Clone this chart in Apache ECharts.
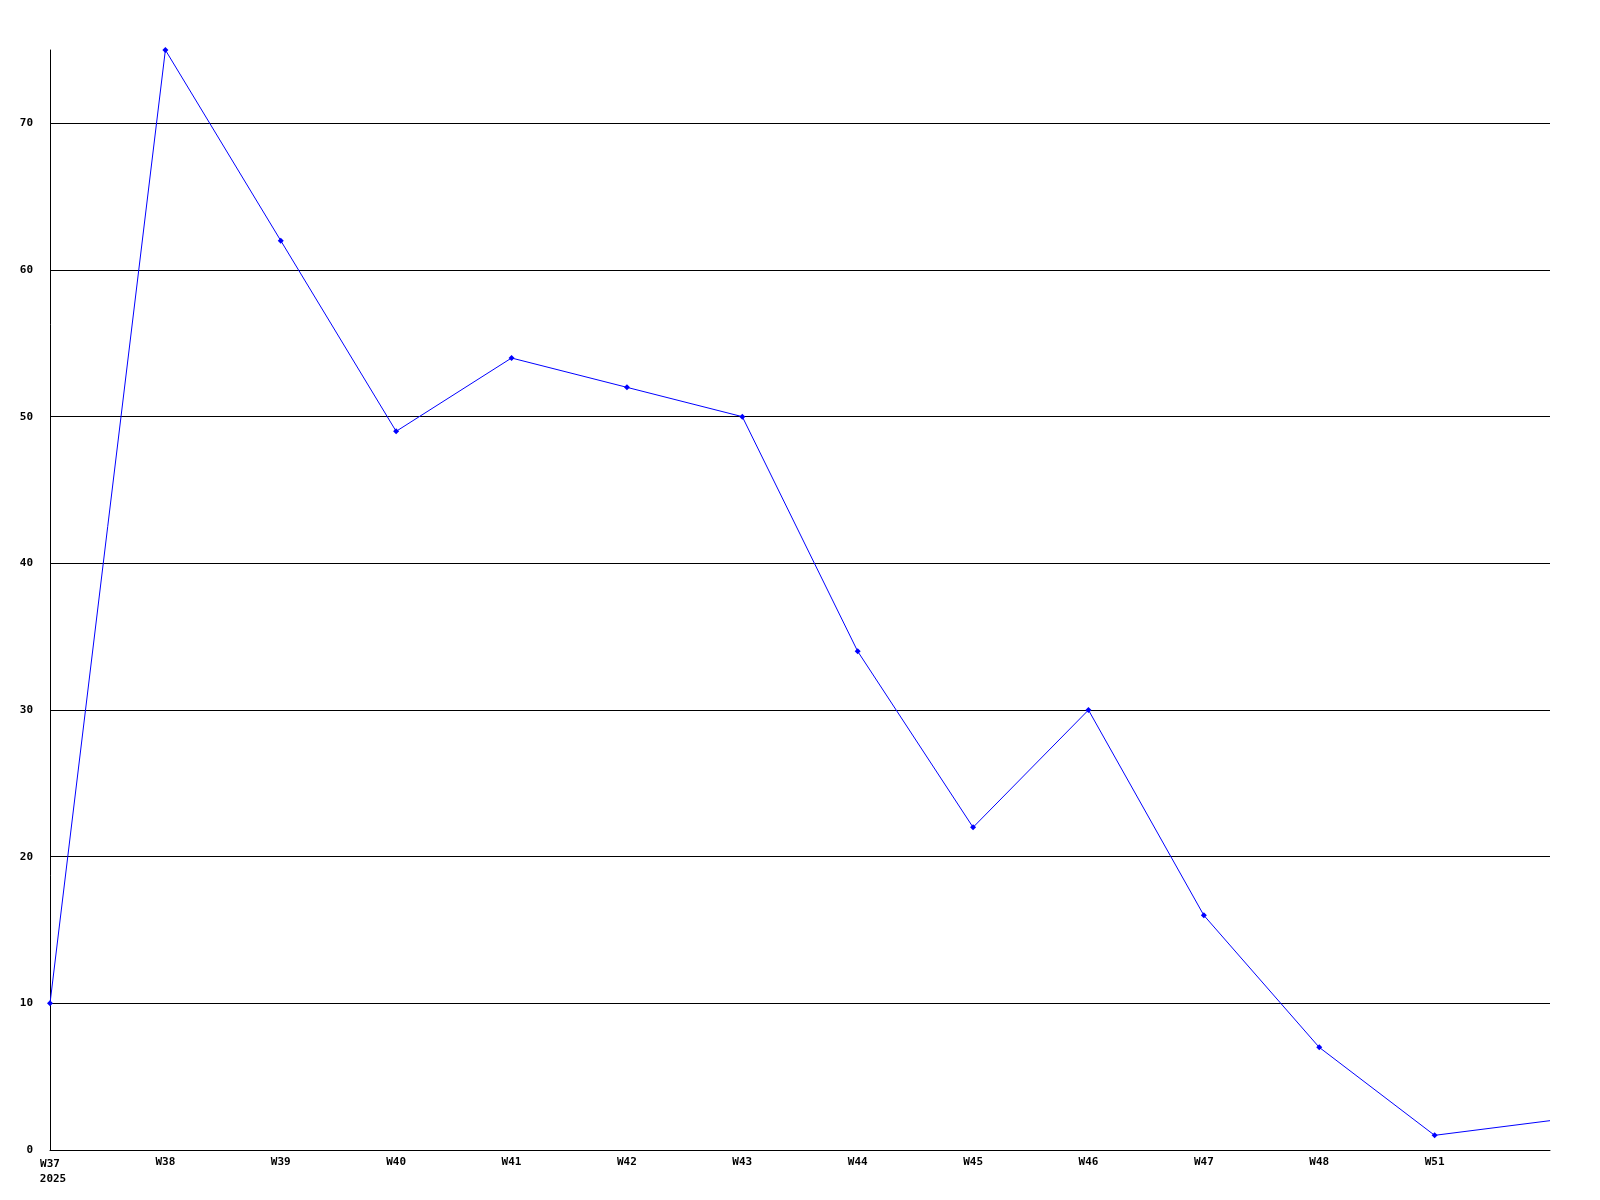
<!DOCTYPE html>
<html>
<head>
<meta charset="utf-8">
<script src="https://cdn.jsdelivr.net/npm/echarts@6/dist/echarts.min.js"></script>
<style>html,body{margin:0;padding:0;background:#fff}#c{width:1600px;height:1200px}</style>
</head>
<body>
<div id="c"></div>
<script>
const categories = ['W37','W38','W39','W40','W41','W42','W43','W44','W45','W46','W47','W48','W51',''];
const values = [10, 75, 62, 49, 54, 52, 50, 34, 22, 30, 16, 7, 1, 2];
const yearLabel = '2025';
const yTicks = [0, 10, 20, 30, 40, 50, 60, 70];

const FONT = 'DejaVu Sans Mono';
const chart = echarts.init(document.getElementById('c'), null, {renderer: 'canvas'});
chart.setOption({
  animation: false,
  backgroundColor: '#ffffff',
  grid: {left: 50, right: 50, top: 50, bottom: 50, containLabel: false},
  xAxis: {
    type: 'category',
    data: categories,
    boundaryGap: false,
    axisLine: {show: true, lineStyle: {color: '#000', width: 1}},
    axisTick: {show: false},
    splitLine: {show: false},
    axisLabel: {
      interval: 0,
      margin: 7,
      color: '#000',
      fontFamily: FONT,
      fontWeight: 'bold',
      fontSize: 11,
      formatter: function (v, i) {
        if (i === 0) return '{a|' + v + '}\n{b|' + yearLabel + '}';
        return v;
      },
      rich: {
        a: {fontFamily: FONT, fontWeight: 'bold', fontSize: 11, color: '#000', align: 'center', lineHeight: 15},
        b: {fontFamily: FONT, fontWeight: 'bold', fontSize: 11, color: '#000', padding: [0, 0, 0, 6], lineHeight: 15}
      }
    }
  },
  yAxis: {
    type: 'value',
    min: 0,
    max: 75,
    interval: 10,
    axisLine: {show: true, lineStyle: {color: '#000', width: 1}},
    axisTick: {show: false},
    splitLine: {show: true, showMaxLine: false, lineStyle: {color: '#000', width: 1}},
    axisLabel: {
      showMaxLabel: false,
      margin: 17,
      color: '#000',
      fontFamily: FONT,
      fontWeight: 'bold',
      fontSize: 11,
      formatter: function (v) { return yTicks.indexOf(v) >= 0 ? String(v) : ''; }
    }
  },
  series: [{
    type: 'line',
    data: values.map(function (v, i) {
      return i === values.length - 1 ? {value: v, symbol: 'none'} : v;
    }),
    symbol: 'diamond',
    symbolSize: 6,
    showSymbol: true,
    showAllSymbol: true,
    lineStyle: {color: '#0000ff', width: 1},
    itemStyle: {color: '#0000ff'},
    emphasis: {disabled: true}
  }]
});
</script>
</body>
</html>
